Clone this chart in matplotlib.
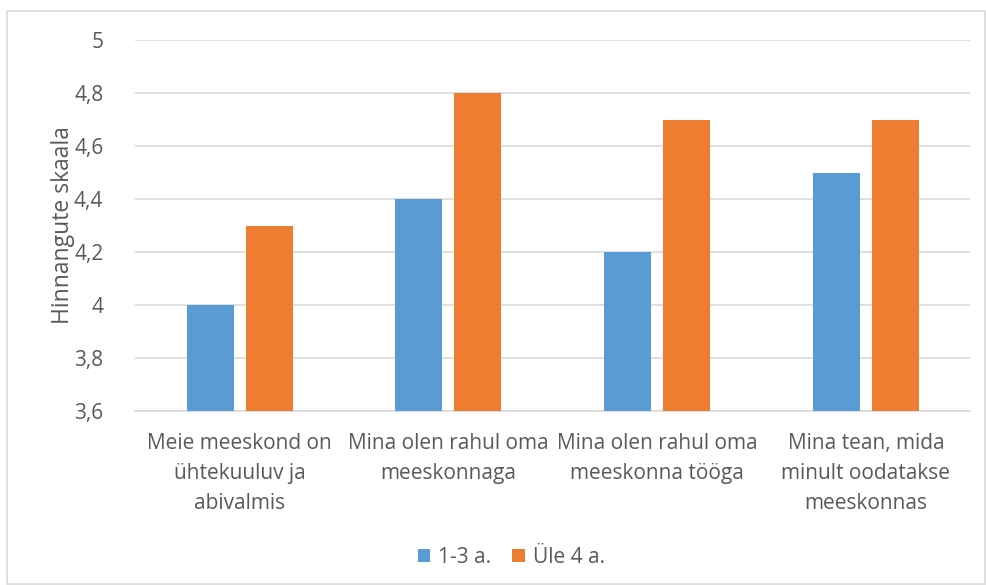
import numpy as np
import matplotlib
matplotlib.use("Agg")
import matplotlib.pyplot as plt
from matplotlib.patches import Rectangle

categories = ["Meie meeskond on\nühtekuuluv ja\nabivalmis",
              "Mina olen rahul oma\nmeeskonnaga",
              "Mina olen rahul oma\nmeeskonna tööga",
              "Mina tean, mida\nminult oodatakse\nmeeskonnas"]
series_names = ["1-3 a.", "Üle 4 a."]
vals_13 = [4.0, 4.4, 4.2, 4.5]
vals_4 = [4.3, 4.8, 4.7, 4.7]
yticks = [3.6, 3.8, 4.0, 4.2, 4.4, 4.6, 4.8, 5.0]
ytick_labels = ["3,6", "3,8", "4", "4,2", "4,4", "4,6", "4,8", "5"]

plt.rcParams['font.family'] = ['Open Sans', 'DejaVu Sans']
txt = "#595959"
grid = "#d9d9d9"

fig = plt.figure(figsize=(9.87, 5.85), dpi=100)
ax = fig.add_axes([0.137, 0.2974, 0.846, 0.6342])

x = np.arange(len(categories))
w = 0.225
off = 0.141
ax.bar(x - off, vals_13, w, color="#5B9BD5", label=series_names[0], zorder=3)
ax.bar(x + off, vals_4, w, color="#ED7D31", label=series_names[1], zorder=3)

ax.set_ylim(3.6, 5.0)
ax.set_xlim(-0.5, len(categories) - 0.5)
ax.set_yticks(yticks)
ax.set_yticklabels(ytick_labels)
ax.set_xticks(x)
ax.set_xticklabels(categories, linespacing=1.55)
ax.tick_params(axis="both", length=0, labelsize=15, colors=txt)
ax.tick_params(axis="y", pad=23)
ax.tick_params(axis="x", pad=16)
ax.yaxis.grid(True, color=grid, linewidth=1.2, zorder=0)
for s in ["top", "right", "left"]:
    ax.spines[s].set_visible(False)
ax.spines["bottom"].set_color(grid)
ax.spines["bottom"].set_linewidth(1.2)
ax.set_ylabel("Hinnangute skaala", fontsize=16.5, color=txt, labelpad=-1)

leg = fig.legend(loc="center", bbox_to_anchor=(0.518, 0.047), ncol=2, frameon=False,
                 fontsize=15, handlelength=0.6, handleheight=0.6,
                 handletextpad=0.4, columnspacing=1.0)
for t in leg.get_texts():
    t.set_color(txt)

fig.patches.append(Rectangle((0.007, 0.002), 0.991, 0.979, transform=fig.transFigure,
                             fill=False, edgecolor=grid, linewidth=1.2))

plt.savefig("out.png", dpi=100)
